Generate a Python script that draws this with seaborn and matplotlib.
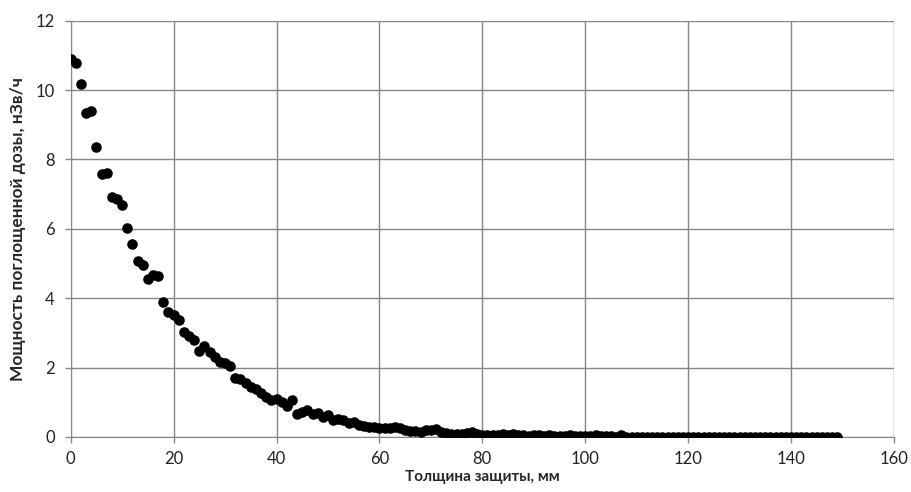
import numpy as np
import pandas as pd
import seaborn as sns
import matplotlib.pyplot as plt

# thickness, mm (step 1 mm)
thickness = list(range(150))

# dose rate, nSv/h
dose_0_31 = [10.9, 10.78, 10.18, 9.34, 9.41, 8.35, 7.59, 7.62, 6.92, 6.85,
             6.68, 6.03, 5.57, 5.08, 4.95, 4.56, 4.68, 4.63, 3.9, 3.6,
             3.52, 3.36, 3.04, 2.92, 2.8, 2.48, 2.62, 2.46, 2.3, 2.15,
             2.12, 2.06]
dose_32_59 = [1.7, 1.68, 1.55, 1.45, 1.37, 1.28, 1.15, 1.08, 1.1, 1.02,
              0.88, 1.06, 0.65, 0.73, 0.77, 0.66, 0.69, 0.58, 0.63, 0.5,
              0.52, 0.5, 0.4, 0.44, 0.36, 0.31, 0.28, 0.3]
dose_60_99 = [0.26, 0.27, 0.26, 0.3, 0.27, 0.2, 0.16, 0.18, 0.15, 0.19,
              0.2, 0.24, 0.15, 0.12, 0.08, 0.1, 0.09, 0.12, 0.14, 0.08,
              0.06, 0.05, 0.07, 0.06, 0.08, 0.07, 0.1, 0.05, 0.06, 0.04,
              0.06, 0.05, 0.04, 0.05, 0.04, 0.03, 0.04, 0.05, 0.03, 0.04]
dose_100_149 = [0.03, 0.02, 0.05, 0.02, 0.02, 0.02, 0.01, 0.05, 0.01, 0.01,
                0.01, 0.01, 0.01, 0.01, 0.01, 0.01, 0.01, 0.01, 0.01, 0.01,
                0.0, 0.0, 0.0, 0.0, 0.0, 0.0, 0.0, 0.0, 0.0, 0.0,
                0.0, 0.0, 0.0, 0.0, 0.0, 0.0, 0.0, 0.0, 0.0, 0.0,
                0.0, 0.0, 0.0, 0.0, 0.0, 0.0, 0.0, 0.0, 0.0, 0.0]
dose = dose_0_31 + dose_32_59 + dose_60_99 + dose_100_149

df = pd.DataFrame({"x": thickness, "y": dose})

sns.set_style("white")
plt.rcParams['font.family'] = ['Lato', 'Open Sans', 'DejaVu Sans']

fig = plt.figure(figsize=(9.11, 4.92), dpi=100)
ax = fig.add_axes([0.0776, 0.1118, 0.9037, 0.8462])

sns.scatterplot(data=df, x="x", y="y", ax=ax, color="black", s=58,
                edgecolor="black", linewidth=0, zorder=3)

ax.set_xlim(0, 160)
ax.set_ylim(0, 12)
ax.set_xticks(range(0, 161, 20))
ax.set_yticks(range(0, 13, 2))
ax.grid(True, color="#868686", linewidth=1)
for s in ax.spines.values():
    s.set_color("#868686")
ax.spines["top"].set_visible(False)
ax.spines["right"].set_visible(False)
ax.tick_params(axis="both", direction="out", length=4.5, width=1,
               color="#868686", labelsize=12, labelcolor="#222222",
               left=True, bottom=True)
ax.tick_params(axis="x", pad=5.5)
ax.tick_params(axis="y", pad=7)

ax.set_xlabel("Толщина защиты, мм", fontsize=11, fontweight="bold", labelpad=2)
ax.set_ylabel("Мощность поглощенной дозы, нЗв/ч", fontsize=12.5,
              fontweight="bold", labelpad=7)

fig.savefig("out.png", dpi=100)
